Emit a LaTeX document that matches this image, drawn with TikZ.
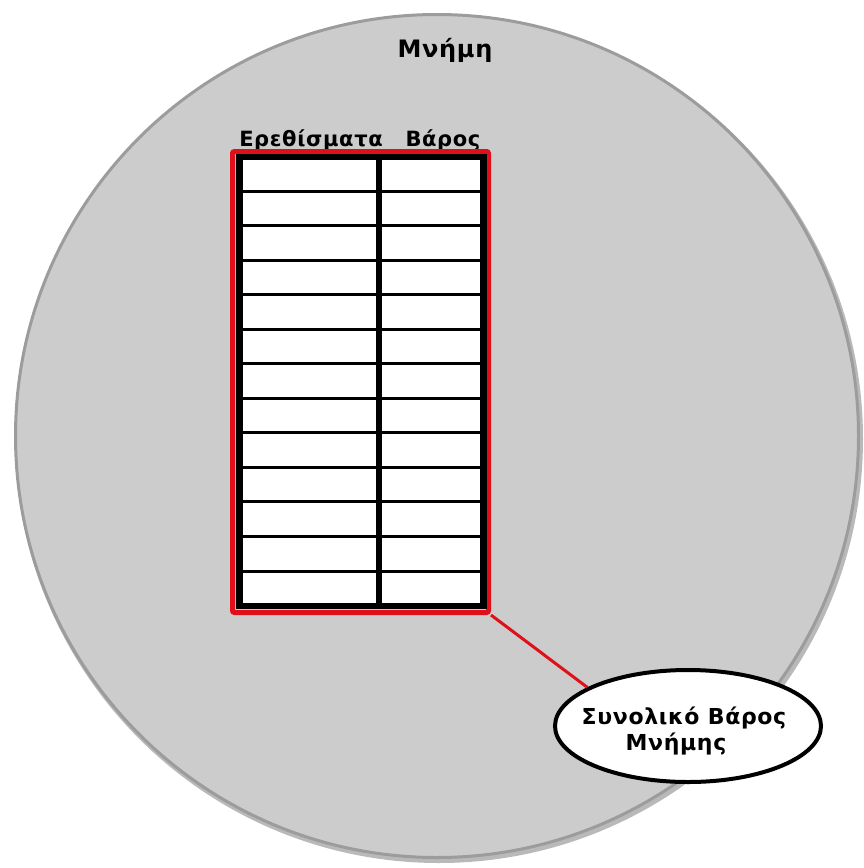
\documentclass[tikz,border=0pt]{standalone}
\usepackage{fontspec}
\usetikzlibrary{shapes.geometric}
\newfontfamily\lblfont{DejaVu Sans}[LetterSpace=3,BoldFont=DejaVu Sans Bold]
\definecolor{memfill}{HTML}{CCCCCC}
\definecolor{memedge}{HTML}{9C9C9C}
\definecolor{memshade}{HTML}{808080}
\definecolor{frame}{HTML}{E0101A}
\begin{document}
\begin{tikzpicture}[x=1pt,y=-1pt,
  lbl/.style={font=\lblfont\bfseries\fontsize{21}{25}\selectfont, text=black, inner sep=0pt},
  rowline/.style={draw=black, line width=3pt},
]
\useasboundingbox (0,0) rectangle (864,868);

% memory disc with a soft shadow towards the lower right
\fill[memshade, opacity=0.55] (439,439) circle[radius=424];
\node[circle, draw=memedge, fill=memfill, line width=3pt, minimum size=843pt, inner sep=0pt] (mem) at (437,436) {};
\node[lbl, font=\lblfont\bfseries\fontsize{24}{28}\selectfont, anchor=base] (title) at (445,57) {Μνήμη};

% column headings
\node[lbl, anchor=base] (hstim) at (311,146) {Ερεθίσματα};
\node[lbl, anchor=base] (hweight) at (443,146) {Βάρος};

% table: red frame, black border, white cells
\node[draw=frame, line width=5pt, rounded corners=2pt, minimum width=256pt, minimum height=461pt, inner sep=0pt] (tbl) at (360.5,382) {};
\node[draw=black, fill=white, line width=6.5pt, minimum width=244pt, minimum height=449pt, inner sep=0pt] (cells) at (361.25,381.25) {};
\foreach \k in {0,...,11} {
  \draw[rowline] (cells.west |- 0,{191+34.55*\k}) -- (cells.east |- 0,{191+34.55*\k});
}
\coordinate (colTop) at (378.5,157);
\coordinate (colBot) at (378.5,606);
\draw[black, line width=6pt] (colTop) -- (colBot);

% total-weight callout
\tikzset{calltext/.style={lbl, font=\lblfont\bfseries\fontsize{22}{26}\selectfont, anchor=base}}
\node[ellipse, draw=black, fill=white, line width=4pt, minimum width=266pt, minimum height=112pt, inner sep=0pt] (total) at (688,726) {};
\node[calltext] (totalA) at (684,724) {Συνολικό Βάρος};
\node[calltext] (totalB) at (676,750) {Μνήμης};
\draw[frame, line width=3pt] (tbl.south east) -- (total.159);
\end{tikzpicture}
\end{document}
